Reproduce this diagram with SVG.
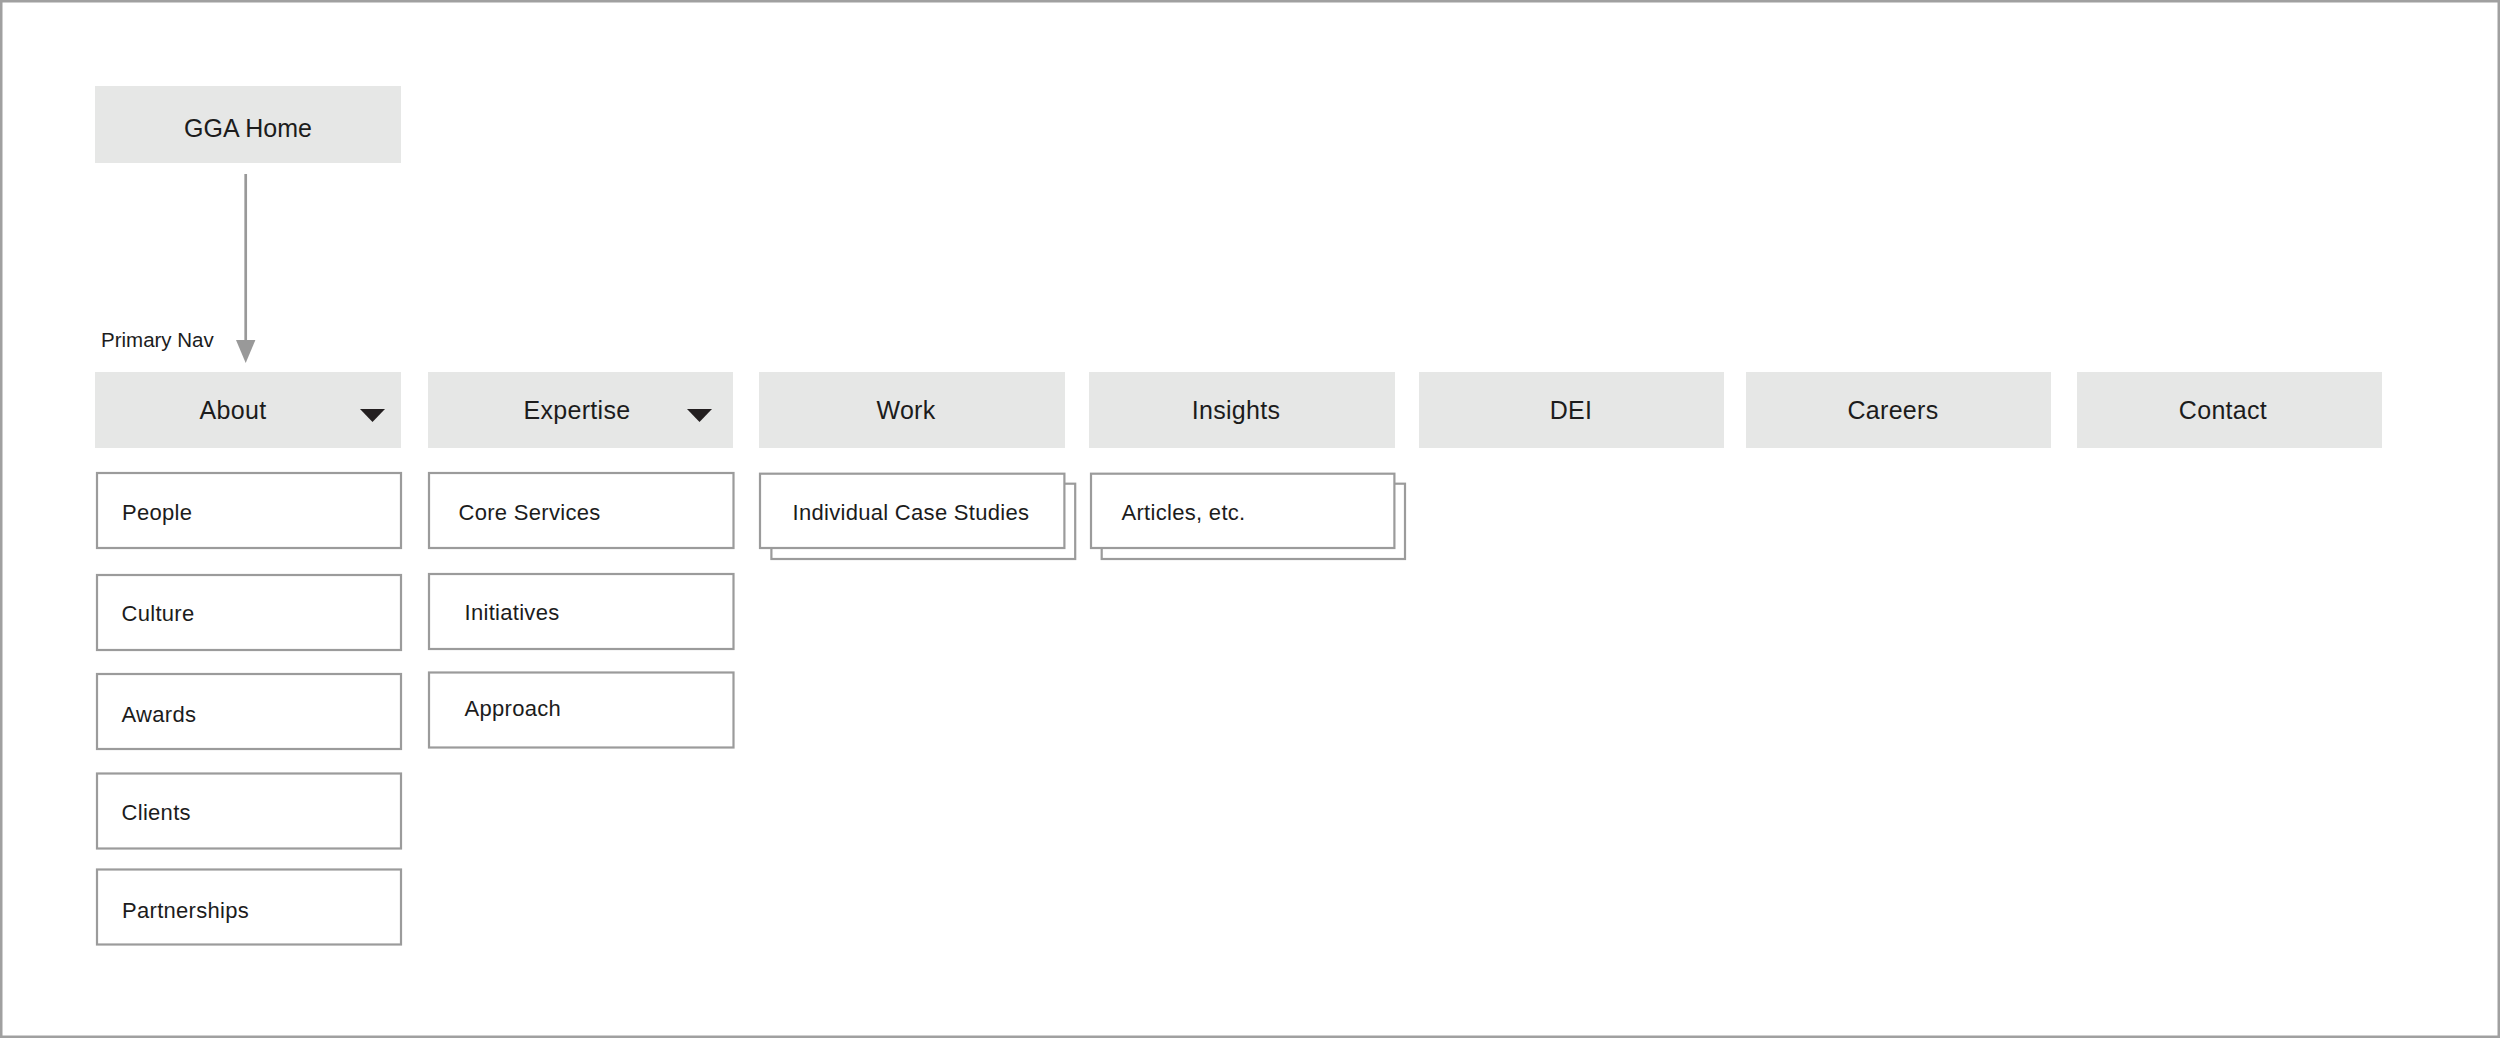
<svg xmlns="http://www.w3.org/2000/svg" width="2500" height="1038" viewBox="0 0 2500 1038">
<style>
.nav{fill:#e6e7e6;}
.sub{fill:#fff;stroke:#9b9b9b;stroke-width:2.2;}
.t{font-family:"Liberation Sans",Arial,Helvetica,sans-serif;fill:#1c1c1c;}
.tn{font-size:25px;letter-spacing:0.3px;text-anchor:middle;}
.ts{font-size:22px;letter-spacing:0.3px;}
.tri{fill:#231f20;}
</style>
<rect x="1.25" y="1.25" width="2497.5" height="1035.5" fill="#fff" stroke="#a0a0a0" stroke-width="2.5"/>
<g id="home">
<rect class="nav" x="95" y="86" width="306" height="77"/>
<text class="t" x="248" y="137" font-size="25" text-anchor="middle">GGA Home</text>
</g>
<text class="t" x="101" y="347" font-size="20.5">Primary Nav</text>
<g id="connectors">
<line x1="245.7" y1="174" x2="245.7" y2="345" stroke="#999" stroke-width="2.7"/>
<polygon points="236,340 255.4,340 245.7,363" fill="#999"/>
</g>
<g id="about">
<rect class="nav" x="95" y="372" width="306" height="76"/>
<text class="t tn" x="233" y="419">About</text>
<polygon class="tri" points="360,409 385,409 372.5,422"/>
</g>
<g id="expertise">
<rect class="nav" x="428" y="372" width="305" height="76"/>
<text class="t tn" x="577" y="419">Expertise</text>
<polygon class="tri" points="687,409 712,409 699.5,422"/>
</g>
<g id="work">
<rect class="nav" x="759" y="372" width="306" height="76"/>
<text class="t tn" x="906" y="419">Work</text>
</g>
<g id="insights">
<rect class="nav" x="1089" y="372" width="306" height="76"/>
<text class="t tn" x="1236" y="419">Insights</text>
</g>
<g id="dei">
<rect class="nav" x="1419" y="372" width="305" height="76"/>
<text class="t tn" x="1571" y="419">DEI</text>
</g>
<g id="careers">
<rect class="nav" x="1746" y="372" width="305" height="76"/>
<text class="t tn" x="1893" y="419">Careers</text>
</g>
<g id="contact">
<rect class="nav" x="2077" y="372" width="305" height="76"/>
<text class="t tn" x="2223" y="419">Contact</text>
</g>
<g id="people">
<rect class="sub" x="97" y="473" width="304" height="75"/>
<text class="t ts" x="122" y="520">People</text>
</g>
<g id="culture">
<rect class="sub" x="97" y="575" width="304" height="75"/>
<text class="t ts" x="121.5" y="621">Culture</text>
</g>
<g id="awards">
<rect class="sub" x="97" y="674" width="304" height="75"/>
<text class="t ts" x="121.5" y="721.5">Awards</text>
</g>
<g id="clients">
<rect class="sub" x="97" y="773.5" width="304" height="75"/>
<text class="t ts" x="121.5" y="820">Clients</text>
</g>
<g id="partnerships">
<rect class="sub" x="97" y="869.5" width="304" height="75"/>
<text class="t ts" x="122" y="918">Partnerships</text>
</g>
<g id="core-services">
<rect class="sub" x="429" y="473" width="304.5" height="75"/>
<text class="t ts" x="458.5" y="520">Core Services</text>
</g>
<g id="initiatives">
<rect class="sub" x="429" y="574" width="304.5" height="75"/>
<text class="t ts" x="464.5" y="620">Initiatives</text>
</g>
<g id="approach">
<rect class="sub" x="429" y="672.5" width="304.5" height="75"/>
<text class="t ts" x="464.5" y="716">Approach</text>
</g>
<g id="case-studies">
<rect class="sub" x="771.4" y="483.7" width="303.8" height="75.3"/>
<rect class="sub" x="760" y="473.7" width="304.4" height="74.3"/>
<text class="t ts" x="792.5" y="520">Individual Case Studies</text>
</g>
<g id="articles">
<rect class="sub" x="1101.7" y="483.7" width="303.3" height="75.3"/>
<rect class="sub" x="1091" y="473.7" width="303.4" height="74.3"/>
<text class="t ts" x="1121.5" y="520">Articles, etc.</text>
</g>
</svg>
